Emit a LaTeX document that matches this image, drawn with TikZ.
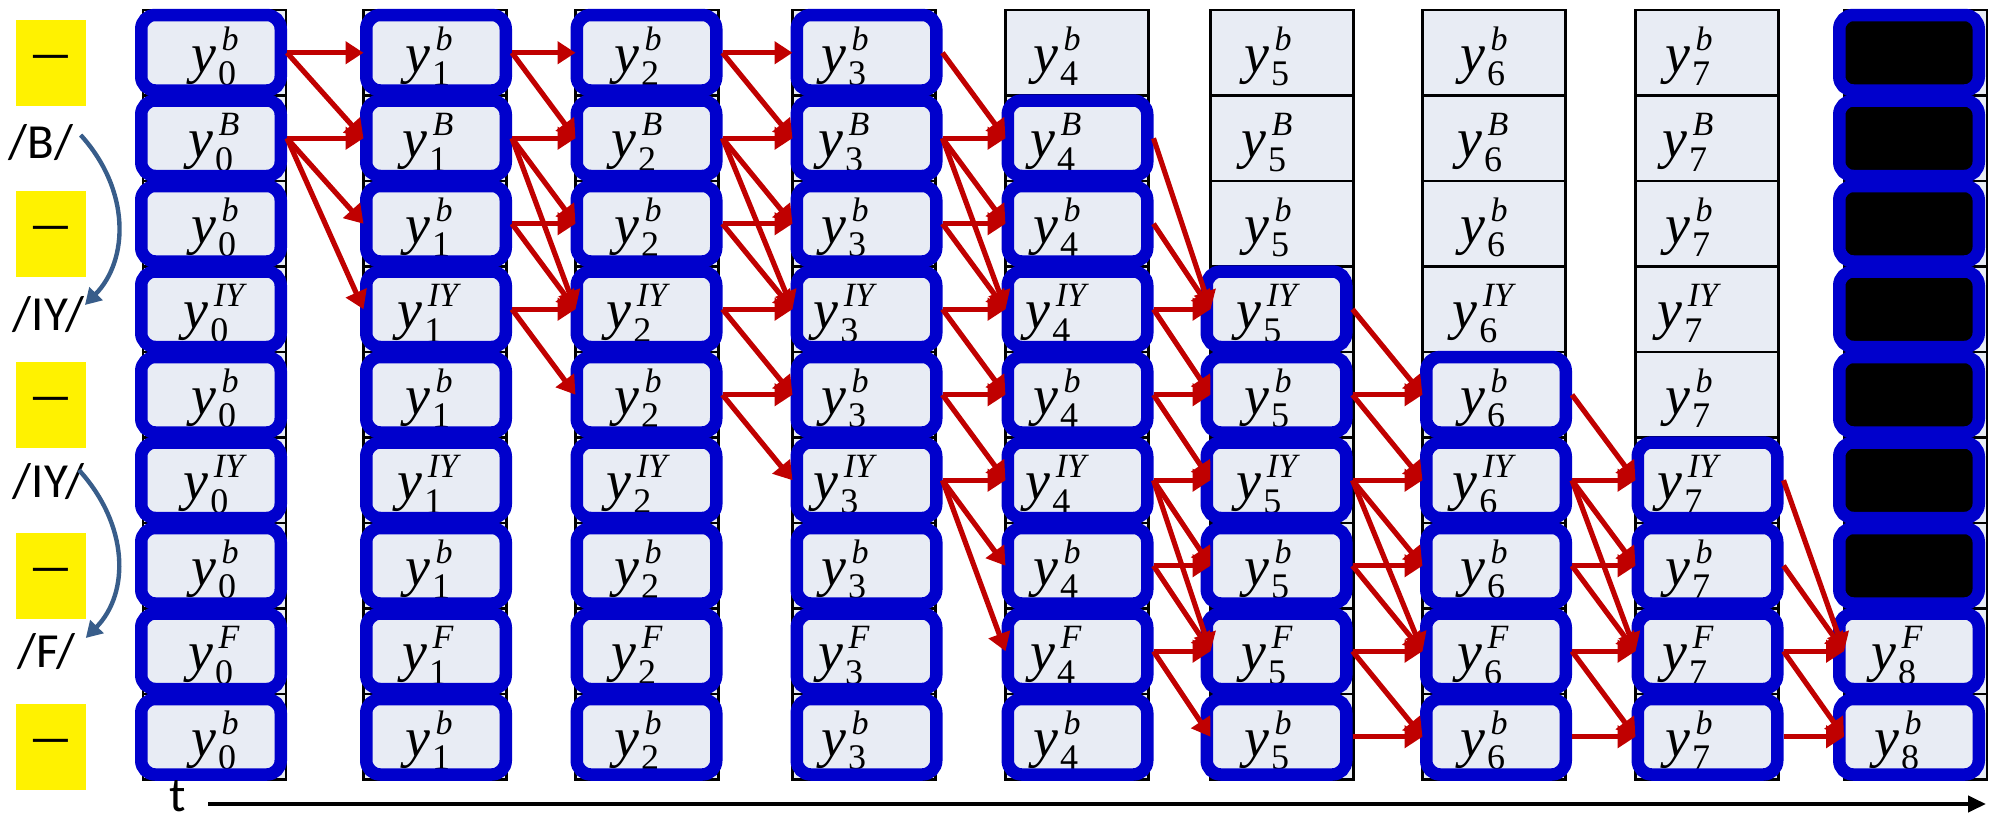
\documentclass[tikz,border=0pt]{standalone}
\usepackage{fontspec}
\setmainfont{Carlito}
\newfontfamily\lbf{Liberation Serif}
\usetikzlibrary{arrows.meta}
\definecolor{cellfill}{RGB}{232,236,244}
\definecolor{bblue}{RGB}{0,0,204}
\definecolor{rred}{RGB}{192,0,0}
\definecolor{steel}{RGB}{56,93,138}
\newsavebox\supbx
\newsavebox\subbx
\newcommand\ylab[2]{%
  \sbox\supbx{\lbf\fontsize{17}{17}\selectfont\itshape #1}%
  \sbox\subbx{\lbf\fontsize{18}{18}\selectfont #2}%
  {\lbf\fontsize{28}{28}\selectfont\itshape y}%
  \rlap{\kern2.5pt\raisebox{11pt}{\usebox\supbx}}%
  \rlap{\kern0.8pt\raisebox{-6.75pt}{\usebox\subbx}}%
  \ifdim\wd\supbx>\wd\subbx\hspace*{\dimexpr\wd\supbx+2.5pt\relax}\else\hspace*{\dimexpr\wd\subbx+0.8pt\relax}\fi}
\begin{document}
\begin{tikzpicture}[x=0.5pt,y=-0.5pt,
  gcell/.style={draw=black,line width=1.25pt,fill=cellfill,minimum width=71.5pt,minimum height=42.75pt,inner sep=0pt,outer sep=0pt},
  bbox/.style={draw=bblue,line width=6.25pt,rounded corners=7pt,minimum width=69.75pt,minimum height=37.75pt,inner sep=0pt,outer sep=3.125pt},
  bfill/.style={bbox,fill=black},
  ynode/.style={inner sep=0pt,anchor=base},
  rarr/.style={draw=rred,line width=2.6pt,-{Triangle[length=9pt,width=11pt]}},
  carr/.style={draw=steel,line width=2.2pt,-{Triangle[length=8pt,width=9pt]}},
  axisl/.style={draw=black,line width=2pt,-{Triangle[length=9pt,width=8pt]}},
  ybox/.style={fill=yellow,minimum width=35pt,minimum height=43pt,inner sep=0pt,font=\fontsize{24.5}{25}\selectfont},
  slab/.style={inner sep=0pt,font=\fontsize{24.5}{25}\selectfont}
]
\useasboundingbox (0,0) rectangle (1994,825);
% grid cells
\foreach \c/\gx in {0/214.5,1/435,2/647,3/864,4/1077,5/1282,6/1494,7/1707,8/1915.5} {
  \foreach \s in {0,...,8} {
    \node[gcell] (g-\c-\s) at (\gx,{52.75+85.5*\s}) {};
  }
}
% labels
\foreach \c/\lx in {0/214,1/428,2/637,3/844,4/1056,5/1267,6/1483,7/1688} {
  \foreach \s/\ss in {0/b,1/B,2/b,3/IY,4/b,5/IY,6/b,7/F,8/b} {
    \node[ynode] (l-\c-\s) at (\lx,{72+85.5*\s}) {\ylab{\ss}{\c}};
  }
}
\node[ynode] (l-8-7) at (1897,{72+85.5*7}) {\ylab{F}{8}};
\node[ynode] (l-8-8) at (1897,{72+85.5*8}) {\ylab{b}{8}};
% blue boxes
\foreach \c/\bx/\rows in {0/211/{0,1,2,3,4,5,6,7,8},1/436/{0,1,2,3,4,5,6,7,8},2/646.5/{0,1,2,3,4,5,6,7,8},3/866.5/{0,1,2,3,4,5,6,7,8},4/1077.5/{1,2,3,4,5,6,7,8},5/1276.5/{3,4,5,6,7,8},6/1496/{4,5,6,7,8},7/1707.5/{5,6,7,8}} {
  \foreach \s in \rows {
    \node[bbox] (b-\c-\s) at (\bx,{52.75+85.5*\s}) {};
  }
}
\foreach \s in {0,...,6} {
  \node[bfill] (b-8-\s) at (1909,{52.75+85.5*\s}) {};
}
\foreach \s in {7,8} {
  \node[bbox] (b-8-\s) at (1909,{52.75+85.5*\s}) {};
}
% transitions
\foreach \c/\pairs in {
  0/{0/0,0/1,1/1,1/2,1/3},
  1/{0/0,0/1,1/1,1/2,1/3,2/2,2/3,3/3,3/4},
  2/{0/0,0/1,1/1,1/2,1/3,2/2,2/3,3/3,3/4,4/4,4/5},
  3/{0/1,1/1,1/2,1/3,2/2,2/3,3/3,3/4,4/4,4/5,5/5,5/6,5/7},
  4/{1/3,2/3,3/3,3/4,4/4,4/5,5/5,5/6,5/7,6/6,6/7,7/7,7/8},
  5/{3/4,4/4,4/5,5/5,5/6,5/7,6/6,6/7,7/7,7/8,8/8},
  6/{4/5,5/5,5/6,5/7,6/6,6/7,7/7,7/8,8/8},
  7/{5/7,6/7,7/7,7/8,8/8}} {
  \pgfmathtruncatemacro\nc{\c+1}
  \foreach \p/\q in \pairs {
    \draw[rarr] (b-\c-\p.east) -- (g-\nc-\q.west);
  }
}
% left side
\foreach \k in {0,...,4} {
  \node[ybox] (yb\k) at (51,{63+171*\k}) {\scalebox{2.0}[1]{–}};
}
\node[slab] (lB) at (41,143) {/B/};
\node[slab] (lIYa) at (48.5,315) {/IY/};
\node[slab] (lIYb) at (48.5,482) {/IY/};
\node[slab] (lF) at (46.5,652) {/F/};
\draw[carr] ([shift={(7,-8)}]lB.east) .. controls +(50,55) and +(44,-45) .. ([shift={(0.5,-10)}]lIYa.east);
\draw[carr] ([shift={(-5.5,-12)}]lIYb.east) .. controls +(50,55) and +(44,-45) .. ([shift={(9.5,-14)}]lF.east);
% time axis
\node[slab,anchor=base] (tlab) at (177.5,811) {t};
\coordinate (axend) at (1986,804);
\draw[axisl] ([xshift=11pt]tlab.east |- axend) -- (axend);
\end{tikzpicture}
\end{document}
